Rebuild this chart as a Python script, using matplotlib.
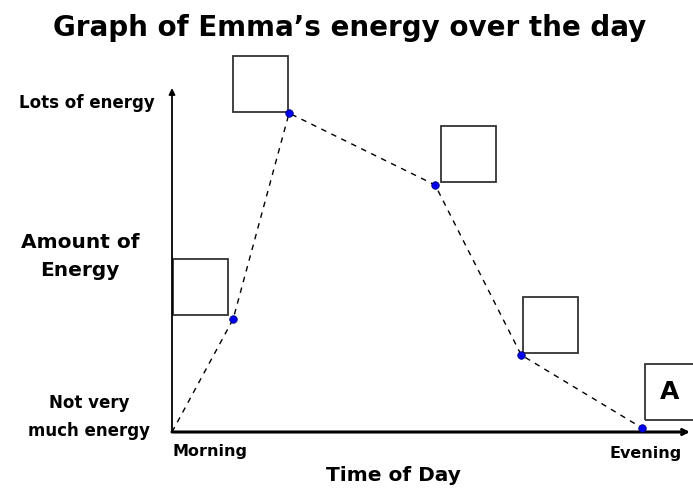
import matplotlib
matplotlib.use("Agg")
import matplotlib.pyplot as plt
from matplotlib.patches import Rectangle

# data: time of day (0 = morning, 10 = evening) and energy (0..10)
time_pts = [0, 1.18, 2.26, 5.08, 6.74, 9.07]
energy_pts = [0, 3.28, 9.27, 7.18, 2.24, 0.12]
box_labels = ["", "", "", "", "A"]
title = "Graph of Emma\u2019s energy over the day"

W, H = 693, 490
fig = plt.figure(figsize=(W / 100, H / 100), dpi=100)
plt.rcParams['font.family'] = ['DejaVu Sans']

# axes box in pixels: origin (172,432), right 690, top 88
x0, y0, x1, y1 = 172, 432, 690, 88
ax = fig.add_axes([x0 / W, 1 - y0 / H, (x1 - x0) / W, (y0 - y1) / H])
ax.set_xlim(0, 10)
ax.set_ylim(0, 10)
ax.axis("off")
sx = (x1 - x0) / 10  # pixels per data unit
sy = (y0 - y1) / 10

ax.annotate("", xy=(0, 1.0), xytext=(0, 0), xycoords="axes fraction",
            arrowprops=dict(arrowstyle="-|>", lw=1.3, color="black",
                            mutation_scale=9, shrinkA=0, shrinkB=0))
ax.annotate("", xy=(1.0, 0), xytext=(0, 0), xycoords="axes fraction",
            arrowprops=dict(arrowstyle="->", lw=2.2, color="black",
                            mutation_scale=9, shrinkA=0, shrinkB=0))

ax.plot(time_pts, energy_pts, ls=(0, (4, 4)), lw=1.0, color="black",
        clip_on=False, zorder=2)
ax.scatter(time_pts[1:], energy_pts[1:], s=30, color="#0000ee",
           edgecolor="#000066", lw=0.5, zorder=3, clip_on=False)

# boxes next to each point (offsets in pixels: dx, dy of lower-left corner)
bw, bh = 55, 56
offsets = [(-60, 4), (-56, 1), (6, 3), (2, 2), (3, 8)]
for i, (dx, dy) in enumerate(offsets):
    t, e = time_pts[i + 1], energy_pts[i + 1]
    bx = t + dx / sx
    by = e + dy / sy
    ax.add_patch(Rectangle((bx, by), bw / sx, bh / sy, fill=False,
                           lw=1.3, edgecolor="#333333", clip_on=False))
    if box_labels[i]:
        ax.text(bx + 25 / sx, by + bh / 2 / sy, box_labels[i],
                fontsize=18, fontweight="bold", ha="center", va="center")

def ftext(px, py, s, **kw):
    fig.text(px / W, 1 - py / H, s, fontweight="bold", **kw)

ftext(350, 28, title, fontsize=20, ha="center", va="center")
ftext(155, 103, "Lots of energy", fontsize=12, ha="right", va="center")
ftext(89, 417, "Not very\nmuch energy", fontsize=12, ha="center",
      va="center", linespacing=1.65)
ftext(80, 257, "Amount of\nEnergy", fontsize=14.5, ha="center",
      va="center", linespacing=1.6)
ftext(172, 451, "Morning", fontsize=11.5, ha="left", va="center")
ftext(682, 453, "Evening", fontsize=11.5, ha="right", va="center")
ftext(393, 475, "Time of Day", fontsize=14.5, ha="center", va="center")

fig.savefig("out.png", dpi=100)
